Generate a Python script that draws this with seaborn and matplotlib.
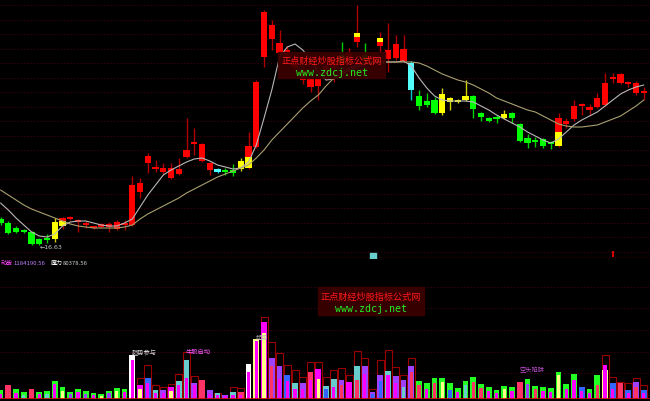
import matplotlib
matplotlib.use('Agg')
import matplotlib.pyplot as plt
from matplotlib.patches import Rectangle
import seaborn as sns
import pandas as pd
import numpy as np

# ---- daily candles ----
open_ = [17.95, 17.75, 17.50, 17.40, 17.30, 16.95, 17.00, 16.95, 17.60, 17.95,
         17.80, 17.65, 17.50, 17.55, 17.55, 17.45, 17.65, 17.65, 19.30, 20.75,
         20.45, 20.30, 20.00, 20.20, 21.05, 21.70, 20.85, 20.40, 20.45, 20.35,
         20.40, 20.45, 20.50, 21.55, 26.05, 26.95, 26.25, 26.00, 25.50, 24.90,
         24.55, 24.60, 25.20, 25.50, 26.15, 25.90, 26.80, 26.15, 25.80, 26.60,
         25.95, 26.00, 25.85, 25.75, 24.10, 23.85, 23.90, 23.25, 23.80, 23.80,
         23.90, 24.10, 23.25, 23.00, 23.00, 23.00, 23.25, 22.70, 22.00, 21.85,
         21.95, 21.75, 21.60, 22.70, 22.95, 23.60, 23.40, 23.55, 23.65, 24.95,
         24.75, 24.70, 24.25, 24.25]
high = [18.05, 17.85, 17.60, 17.45, 17.35, 17.00, 17.20, 18.00, 18.05, 18.10,
        17.95, 17.85, 17.60, 17.75, 17.80, 17.90, 17.90, 20.10, 20.00, 21.25,
        20.90, 20.75, 20.75, 21.00, 23.00, 22.50, 21.75, 20.80, 20.50, 20.50,
        20.70, 21.00, 22.30, 24.90, 28.40, 27.90, 27.40, 26.60, 26.20, 25.60,
        25.05, 25.10, 25.70, 26.05, 26.80, 26.50, 28.65, 26.75, 26.30, 27.30,
        27.75, 27.15, 27.15, 25.85, 24.40, 24.25, 24.05, 24.50, 24.05, 23.95,
        24.90, 24.15, 23.30, 23.05, 23.15, 23.40, 23.30, 22.75, 22.20, 22.05,
        22.00, 21.85, 23.25, 23.00, 23.90, 23.75, 23.70, 24.25, 25.25, 25.25,
        25.25, 24.85, 24.85, 24.55]
low = [17.65, 17.20, 17.25, 17.25, 16.65, 16.63, 16.75, 16.80, 17.45, 17.90,
       17.30, 17.50, 17.45, 17.50, 17.30, 17.40, 17.40, 17.60, 19.00, 20.25,
       20.30, 20.20, 19.95, 20.15, 21.00, 21.15, 20.80, 20.15, 20.25, 20.15,
       20.10, 20.35, 20.45, 21.50, 25.55, 26.40, 26.10, 25.80, 25.30, 24.70,
       24.30, 23.90, 24.90, 24.80, 25.70, 25.75, 26.55, 25.70, 25.60, 26.30,
       25.30, 25.90, 25.80, 23.90, 23.40, 23.55, 23.20, 23.15, 23.40, 23.75,
       23.85, 23.00, 22.85, 22.80, 22.75, 22.95, 22.75, 21.80, 21.50, 21.55,
       21.50, 21.45, 21.55, 22.50, 22.85, 23.15, 23.15, 23.50, 23.60, 24.75,
       24.70, 24.55, 24.15, 23.90]
close = [17.75, 17.25, 17.30, 17.30, 16.70, 16.68, 16.90, 17.80, 18.00, 18.05,
         17.90, 17.70, 17.55, 17.70, 17.70, 17.80, 17.75, 19.65, 19.75, 21.10,
         20.55, 20.50, 20.50, 20.45, 21.40, 21.80, 21.70, 20.75, 20.30, 20.30,
         20.25, 20.85, 21.60, 24.80, 28.30, 27.65, 26.75, 26.40, 26.00, 25.40,
         24.95, 25.00, 25.60, 25.90, 25.80, 26.30, 27.25, 25.90, 26.10, 27.00,
         26.40, 26.70, 26.45, 24.40, 23.60, 23.65, 23.25, 24.20, 24.00, 23.90,
         24.10, 23.45, 23.05, 22.85, 22.95, 23.20, 23.00, 21.85, 21.75, 21.80,
         21.60, 21.70, 23.00, 22.85, 23.60, 23.65, 23.55, 24.00, 24.75, 25.00,
         25.20, 24.75, 24.75, 24.35]
kind = ('gggggggytr' 'rrrrrrrrrr' 'rrrrrrrrcg' 'gytrrrrrrr' 'rrrrgrtgrt'
        'rrrcgggyyy' 'yggggygggg' 'ggtrrrrrrr' 'rrrr')

# two-colour bodies
tt_idx = [8, 32, 46, 49, 72]
tt_split = [17.85, 21.05, 27.05, 26.80, 22.30]
tt_top = ['r', 'r', 'y', 'y', 'r']
tt_bottom = ['y', 'y', 'r', 'r', 'y']

ma_fast = [18.75, 18.40, 18.00, 17.65, 17.30, 17.10, 17.05, 17.20, 17.60, 17.80,
           17.85, 17.85, 17.75, 17.65, 17.60, 17.60, 17.75, 17.95, 18.55, 19.15,
           19.65, 20.15, 20.40, 20.60, 20.80, 20.95, 21.00, 20.85, 20.65, 20.55,
           20.45, 20.50, 20.80, 21.65, 23.00, 24.40, 26.05, 26.55, 26.70, 26.40,
           25.90, 25.30, 24.90, 24.95, 25.20, 25.40, 25.55, 25.70, 25.75, 25.80,
           25.80, 25.80, 25.85, 25.60, 25.00, 24.50, 24.10, 23.90, 23.85, 23.85,
           23.85, 23.80, 23.60, 23.40, 23.15, 22.95, 22.75, 22.55, 22.30, 22.10,
           21.90, 21.75, 21.95, 22.30, 22.65, 22.90, 23.10, 23.30, 23.60, 23.90,
           24.20, 24.40, 24.55, 24.65]
ma_slow = [19.40, 19.15, 18.90, 18.65, 18.45, 18.30, 18.15, 18.00, 17.85, 17.70,
           17.60, 17.55, 17.50, 17.50, 17.50, 17.50, 17.55, 17.65, 17.95, 18.20,
           18.40, 18.60, 18.80, 19.00, 19.25, 19.45, 19.65, 19.85, 20.05, 20.20,
           20.35, 20.50, 20.65, 21.00, 21.40, 21.90, 22.30, 22.70, 23.10, 23.50,
           23.85, 24.15, 24.60, 25.00, 25.30, 25.50, 25.65, 25.75, 25.80, 25.80,
           25.80, 25.80, 25.80, 25.80, 25.75, 25.60, 25.40, 25.20, 25.05, 24.90,
           24.80, 24.65, 24.45, 24.25, 24.00, 23.85, 23.70, 23.55, 23.40, 23.30,
           23.10, 22.90, 22.70, 22.60, 22.55, 22.55, 22.60, 22.65, 22.80, 22.95,
           23.10, 23.35, 23.60, 23.90]

# ---- lower indicator (万手) ----
box_h = [0, 0, 0, 0, 0, 0, 0, 0, 0, 0,
         0, 0, 0, 0, 0, 0, 0, 0, 21, 34,
         14, 12, 15, 25, 47, 23, 0, 0, 6, 0,
         12, 11, 0, 0, 82, 57, 46, 34, 29, 22,
         37, 37, 22, 29, 31, 24, 48, 41, 10, 39,
         49, 32, 24, 41, 0, 0, 0, 0, 0, 0,
         0, 0, 0, 0, 0, 0, 0, 0, 0, 0,
         0, 0, 0, 0, 0, 0, 0, 0, 44, 22,
         17, 16, 21, 14]
wide_h = [9, 14, 10, 7, 10, 7, 8, 18, 12, 7,
          10, 8, 6, 5, 8, 11, 10, 44, 14, 21,
          9, 9, 12, 18, 39, 16, 19, 9, 6, 4,
          7, 7, 35, 60, 77, 41, 33, 24, 16, 16,
          27, 30, 13, 20, 19, 17, 33, 33, 7, 24,
          28, 23, 19, 33, 18, 16, 21, 21, 16, 11,
          18, 22, 15, 12, 9, 13, 12, 17, 20, 13,
          12, 11, 27, 15, 25, 12, 10, 24, 29, 16,
          16, 9, 17, 9]
wide_c = ('gpggpggggg' 'gggggggwmb' 'cvmccvpvcv' 'cpwymvvbcv' 'pmccvmcvvv'
          'cvvvgggggg' 'gggggggpgg' 'gggggbggyb' 'pbvb')
inner_h = [5, 0, 6, 4, 0, 5, 5, 15, 8, 5,
           7, 5, 4, 3, 6, 8, 7, 39, 10, 16,
           6, 6, 8, 14, 21, 14, 0, 5, 4, 3,
           4, 4, 27, 58, 66, 33, 20, 18, 10, 10,
           19, 20, 10, 12, 14, 0, 19, 25, 5, 18,
           24, 16, 12, 27, 14, 10, 16, 17, 9, 7,
           14, 17, 11, 8, 6, 10, 8, 0, 15, 10,
           8, 7, 24, 10, 19, 8, 6, 14, 34, 10,
           0, 6, 12, 6]
inner_c = ('mmmcmmcmyv' 'mvmyvymmym' 'mmymmmmmmm' 'mmmmypmmmm' 'mybmpmpmbb'
           'mmcppmpybm' 'cppmmymmvp' 'mmymmmmpmm' 'pmpm')

signals = ['趋势参与', '牛股启动', '起势', '空头陷阱']
signal_at = [17, 24, 33, 67]
signal_vol = [46, 47, 61, 29]
signal_col = ['#dddddd', '#ff55ff', '#bbbbbb', '#c050d0']

CANDLE = {'r': '#ff0000', 'g': '#00ff00', 'y': '#ffff00', 'c': '#54ffff'}
WICK = {'r': '#b00000', 'g': '#00d000', 'y': '#d0d000', 'c': '#00c8c8', 't': '#b00000'}
VOLC = {'g': '#22ff22', 'p': '#ff3366', 'm': '#ff00ff', 'v': '#a040ff',
        'b': '#3366ff', 'c': '#66cccc', 'w': '#ffffff', 'y': '#ffff88'}

sns.set_theme(style='dark', rc={'axes.facecolor': 'black', 'figure.facecolor': 'black'})
plt.rcParams['font.family'] = ['Noto Sans CJK SC', 'DejaVu Sans']

df = pd.DataFrame({'i': np.arange(len(open_)), 'open': open_, 'high': high,
                   'low': low, 'close': close, 'kind': list(kind),
                   'ma_fast': ma_fast, 'ma_slow': ma_slow})

W, H = 650, 401
fig = plt.figure(figsize=(W / 100, H / 100), dpi=100)
ax = fig.add_axes([0, 1 - 258 / H, 1, 258 / H])
ax2 = fig.add_axes([0, 2 / H, 1, 119 / H])
for a in (ax, ax2):
    a.set_facecolor('black')
    a.set_xlim(-0.07, 83.8)

ax.set_ylim(16.0, 28.9)
ax2.set_ylim(0, 119)

# faint grid
for g in np.arange(28.65, 16.0, -0.725):
    ax.axhline(g, color='#3a0010', lw=0.6, ls=(0, (2, 2)), zorder=0)
for g in np.arange(4, 119, 21.7):
    ax2.axhline(g, color='#3a0010', lw=0.6, ls=(0, (2, 2)), zorder=0)

# candles
bot = df[['open', 'close']].min(axis=1)
top = df[['open', 'close']].max(axis=1)
ax.vlines(df['i'], df['low'], df['high'], colors=[WICK[k] for k in kind], lw=1, zorder=2)
body_col = []
for t, k in enumerate(kind):
    if k == 't':
        body_col.append(CANDLE[tt_bottom[tt_idx.index(t)]])
    else:
        body_col.append(CANDLE[k])
ax.bar(df['i'], np.maximum(top - bot, 0.08), bottom=bot, width=0.8,
       color=body_col, lw=0, zorder=3)
tt_hi = [top[i] for i in tt_idx]
ax.bar(tt_idx, np.array(tt_hi) - np.array(tt_split), bottom=tt_split, width=0.8,
       color=[CANDLE[c] for c in tt_top], lw=0, zorder=4)

sns.lineplot(data=df, x='i', y='ma_fast', ax=ax, color='#b8b8b8', lw=0.8, zorder=5)
sns.lineplot(data=df, x='i', y='ma_slow', ax=ax, color='#a8a070', lw=0.8, zorder=5)

ax.text(5, low[5] - 0.1, '←' + f'{low[5]:.2f}', color='#c8c8c8', fontsize=4.5,
        va='center', ha='left', family=['DejaVu Sans'])
ax.axhline(16.02, color='#700000', lw=1)
ax.scatter([48], [16.12], marker='s', s=14, color='#66cccc', zorder=6)
ax.vlines([79], 16.05, 16.35, colors='#ff0000', lw=1.2)

# lower panel
ax2.bar(df['i'], box_h, width=0.9, fill=False, edgecolor='#990000', lw=0.8, zorder=2)
ax2.bar(df['i'], wide_h, width=0.75, color=[VOLC[c] for c in wide_c], lw=0, zorder=3)
ax2.bar(df['i'], inner_h, width=0.4, color=[VOLC[c] for c in inner_c], lw=0, zorder=4)
ax2.axhline(0.4, color='#cc0000', lw=1.2, zorder=5)
for s, i, v, c in zip(signals, signal_at, signal_vol, signal_col):
    ax2.text(i - 0.1, v, s, color=c, fontsize=4.5, ha='left', va='center', zorder=6)

for a in (ax, ax2):
    a.set_axis_off()

# status line
def px(x, y):
    return x / W, 1 - y / H

for x, s, c in [(1, '动能', '#ff44ff'), (13, '1184190.56', '#c080ff'),
                (51, '魔力', '#ffffff'), (63, '80378.56', '#cccccc')]:
    fig.text(*px(x, 263.5), s, color=c, fontsize=4.3, va='center', ha='left')

# watermarks
for (x0, y0, x1, y1) in [(278, 52, 385, 78), (318, 287, 424, 315)]:
    fig.add_artist(Rectangle(px(x0, y1), (x1 - x0) / W, (y1 - y0) / H,
                             transform=fig.transFigure, color='#3c0000', alpha=0.92, zorder=10))
for (cx, ry, gy) in [(332, 61.5, 73), (371, 297, 309)]:
    fig.text(*px(cx, ry), '正点财经炒股指标公式网', color='#ff1a1a', fontsize=6.6,
             ha='center', va='center', zorder=11)
    fig.text(*px(cx, gy), 'www.zdcj.net', color='#22ee22', fontsize=7.2,
             ha='center', va='center', family=['DejaVu Sans Mono'], zorder=11)

fig.savefig('out.png', dpi=100, facecolor='black')
